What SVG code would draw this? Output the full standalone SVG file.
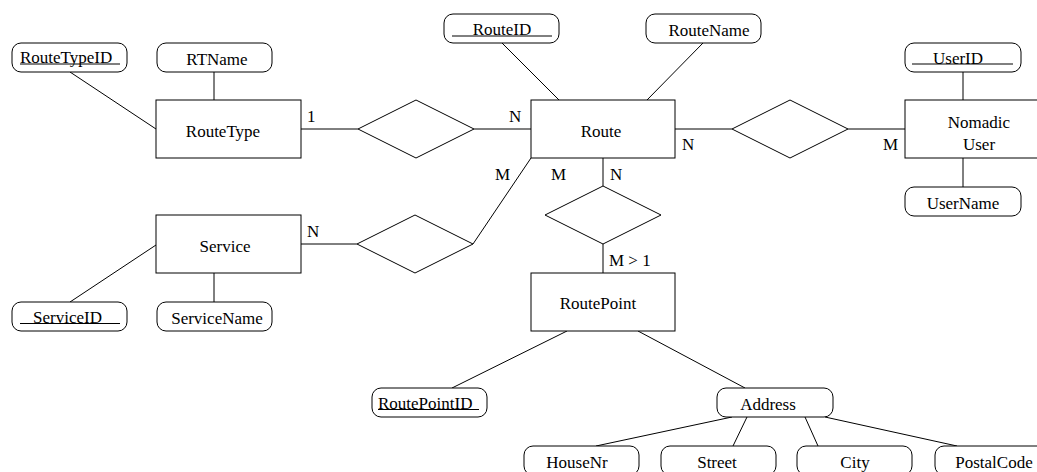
<svg xmlns="http://www.w3.org/2000/svg" width="1037" height="472" viewBox="0 0 1037 472">
<style>
.ent{fill:#fff;stroke:#000;stroke-width:1}
.att{fill:#fff;stroke:#000;stroke-width:1}
.rel{fill:#fff;stroke:#000;stroke-width:1}
.ln{stroke:#000;stroke-width:1;fill:none}
.ul{stroke:#000;stroke-width:1}
text{font-family:"Liberation Serif","Times New Roman",serif;font-size:17px;fill:#000}
.c{text-anchor:middle}
</style>
<rect width="1037" height="472" fill="#fff"/>
<g id="connectors">
<line class="ln" x1="70" y1="72" x2="156" y2="129"/>
<line class="ln" x1="214" y1="72" x2="214" y2="100"/>
<line class="ln" x1="301" y1="129" x2="358" y2="129"/>
<line class="ln" x1="474" y1="129" x2="531" y2="129"/>
<line class="ln" x1="502" y1="43" x2="559" y2="100"/>
<line class="ln" x1="703" y1="43" x2="647" y2="100"/>
<line class="ln" x1="675" y1="129" x2="732" y2="129"/>
<line class="ln" x1="848" y1="129" x2="905" y2="129"/>
<line class="ln" x1="963" y1="72" x2="963" y2="100"/>
<line class="ln" x1="963" y1="158" x2="963" y2="187"/>
<line class="ln" x1="301" y1="244" x2="357" y2="244"/>
<line class="ln" x1="473" y1="244" x2="531" y2="158"/>
<line class="ln" x1="603" y1="158" x2="603" y2="186"/>
<line class="ln" x1="603" y1="244" x2="603" y2="273"/>
<line class="ln" x1="70" y1="302" x2="156" y2="245"/>
<line class="ln" x1="214" y1="273" x2="214" y2="302"/>
<line class="ln" x1="567" y1="331" x2="452" y2="388"/>
<line class="ln" x1="638" y1="331" x2="745" y2="388"/>
<line class="ln" x1="732" y1="417" x2="596" y2="446"/>
<line class="ln" x1="747" y1="417" x2="733" y2="446"/>
<line class="ln" x1="805" y1="417" x2="818" y2="446"/>
<line class="ln" x1="825" y1="417" x2="957" y2="446"/>
<text x="307" y="122">1</text>
<text x="509" y="122">N</text>
<text x="682" y="150">N</text>
<text x="883" y="150">M</text>
<text x="495" y="180">M</text>
<text x="551" y="180">M</text>
<text x="610" y="180">N</text>
<text x="307" y="237">N</text>
<text x="609" y="266">M &gt; 1</text>
</g>
<g id="rel1"><polygon class="rel" points="358,129 416,100 474,129 416,158"/></g>
<g id="rel2"><polygon class="rel" points="732,129 790,100 848,129 790,158"/></g>
<g id="rel3"><polygon class="rel" points="357,244 415,215 473,244 415,273"/></g>
<g id="rel4"><polygon class="rel" points="545,215 603,186 661,215 603,244"/></g>
<g id="RouteType"><rect class="ent" x="156" y="100" width="145" height="58"/><text class="c" x="223" y="137">RouteType</text></g>
<g id="Route"><rect class="ent" x="531" y="100" width="144" height="58"/><text class="c" x="601" y="137">Route</text></g>
<g id="NomadicUser"><rect class="ent" x="905" y="100" width="148" height="58"/><text class="c" x="979" y="128">Nomadic</text><text class="c" x="979" y="150">User</text></g>
<g id="Service"><rect class="ent" x="156" y="215" width="145" height="58"/><text class="c" x="225" y="252">Service</text></g>
<g id="RoutePoint"><rect class="ent" x="531" y="273" width="144" height="58"/><text class="c" x="598" y="309">RoutePoint</text></g>
<g id="RouteTypeID"><rect class="att" x="12" y="43" width="115" height="29" rx="9"/><text x="20" y="63">RouteTypeID</text><line class="ul" x1="20" y1="64" x2="120" y2="64"/></g>
<g id="RTName"><rect class="att" x="157" y="43" width="115" height="29" rx="9"/><text class="c" x="217" y="65">RTName</text></g>
<g id="RouteID"><rect class="att" x="444" y="14" width="115" height="29" rx="9"/><text class="c" x="502" y="35">RouteID</text><line class="ul" x1="452" y1="36" x2="552" y2="36"/></g>
<g id="RouteName"><rect class="att" x="646" y="14" width="115" height="29" rx="9"/><text class="c" x="709" y="36">RouteName</text></g>
<g id="UserID"><rect class="att" x="905" y="43" width="116" height="29" rx="9"/><text x="933" y="64">UserID</text><line class="ul" x1="912" y1="64" x2="1013" y2="64"/></g>
<g id="UserName"><rect class="att" x="905" y="187" width="116" height="29" rx="9"/><text class="c" x="963" y="209">UserName</text></g>
<g id="ServiceID"><rect class="att" x="12" y="302" width="115" height="29" rx="9"/><text x="33" y="323">ServiceID</text><line class="ul" x1="20" y1="323.5" x2="120" y2="323.5"/></g>
<g id="ServiceName"><rect class="att" x="157" y="302" width="115" height="29" rx="9"/><text class="c" x="217" y="324">ServiceName</text></g>
<g id="RoutePointID"><rect class="att" x="372" y="388" width="115" height="29" rx="9"/><text x="378" y="409">RoutePointID</text><line class="ul" x1="378" y1="409.5" x2="479" y2="409.5"/></g>
<g id="Address"><rect class="att" x="717" y="388" width="116" height="29" rx="9"/><text class="c" x="768" y="410">Address</text></g>
<g id="HouseNr"><rect class="att" x="524" y="446" width="115" height="29" rx="9"/><text class="c" x="577" y="468">HouseNr</text></g>
<g id="Street"><rect class="att" x="661" y="446" width="115" height="29" rx="9"/><text class="c" x="717" y="468">Street</text></g>
<g id="City"><rect class="att" x="797" y="446" width="115" height="29" rx="9"/><text class="c" x="855" y="468">City</text></g>
<g id="PostalCode"><rect class="att" x="935" y="446" width="115" height="29" rx="9"/><text class="c" x="994" y="468">PostalCode</text></g>
</svg>
